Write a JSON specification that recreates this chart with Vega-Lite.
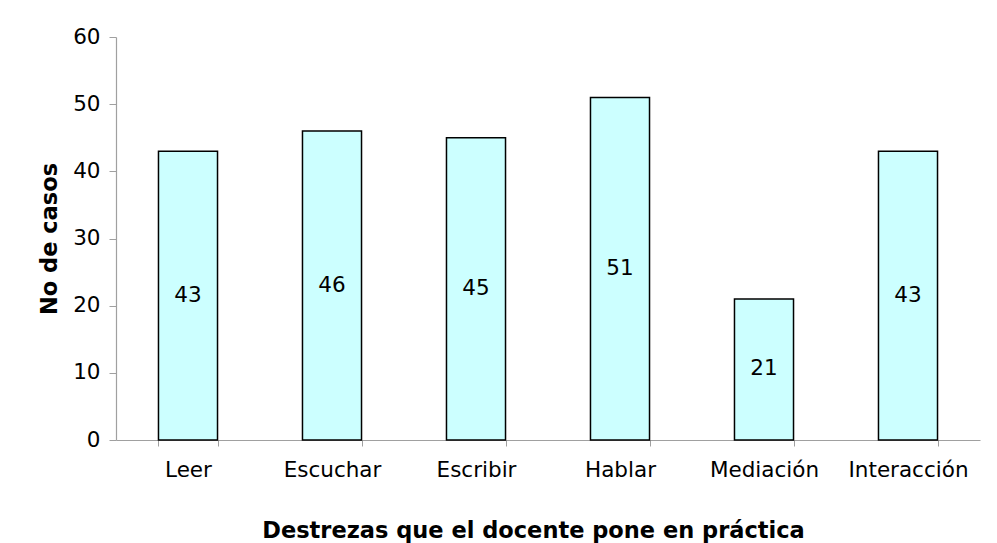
{
  "$schema": "https://vega.github.io/schema/vega-lite/v6.json",
  "autosize": {"type": "none"},
  "width": 864,
  "height": 403,
  "padding": {"left": 116, "top": 37, "right": 17, "bottom": 103},
  "background": "white",
  "config": {
    "view": {"stroke": null},
    "font": "DejaVu Sans",
    "axis": {"labelFont": "DejaVu Sans", "titleFont": "DejaVu Sans", "labelColor": "#000000", "titleColor": "#000000", "domainColor": "#A0A0A0", "tickColor": "#A0A0A0", "grid": false}
  },
  "data": {
    "values": [
      {"destreza": "Leer", "casos": 43},
      {"destreza": "Escuchar", "casos": 46},
      {"destreza": "Escribir", "casos": 45},
      {"destreza": "Hablar", "casos": 51},
      {"destreza": "Mediación", "casos": 21},
      {"destreza": "Interacción", "casos": 43}
    ]
  },
  "encoding": {
    "x": {
      "field": "destreza",
      "type": "nominal",
      "sort": null,
      "scale": {"paddingInner": 0.59, "paddingOuter": 0.295},
      "axis": {
        "title": "Destrezas que el docente pone en práctica",
        "labelAngle": 0,
        "labelFontSize": 21.5,
        "labelPadding": 13,
        "tickBand": "extent",
        "tickSize": 6,
        "domainWidth": 1.2,
        "titleFontSize": 22.5,
        "titleFontWeight": "bold",
        "titleBaseline": "middle",
        "titleX": 417,
        "titleY": 90
      }
    }
  },
  "layer": [
    {
      "mark": {"type": "bar", "fill": "#CCFFFF", "stroke": "#000000", "strokeWidth": 1.5},
      "encoding": {
        "y": {
          "field": "casos",
          "type": "quantitative",
          "scale": {"domain": [0, 60], "nice": false},
          "axis": {
            "title": "No de casos",
            "values": [0, 10, 20, 30, 40, 50, 60],
            "labelFontSize": 21.5,
            "labelPadding": 9,
            "tickSize": 7,
            "domainWidth": 1.2,
            "titleFontSize": 22.5,
            "titleFontWeight": "bold",
            "titleBaseline": "middle",
            "titleAngle": -90,
            "titleX": -67,
            "titleY": 201.5
          }
        }
      }
    },
    {
      "transform": [{"calculate": "datum.casos / 2", "as": "mitad"}],
      "mark": {"type": "text", "fontSize": 21.5, "color": "#000000", "baseline": "middle", "align": "center"},
      "encoding": {
        "y": {"field": "mitad", "type": "quantitative"},
        "text": {"field": "casos", "type": "quantitative"}
      }
    }
  ]
}
